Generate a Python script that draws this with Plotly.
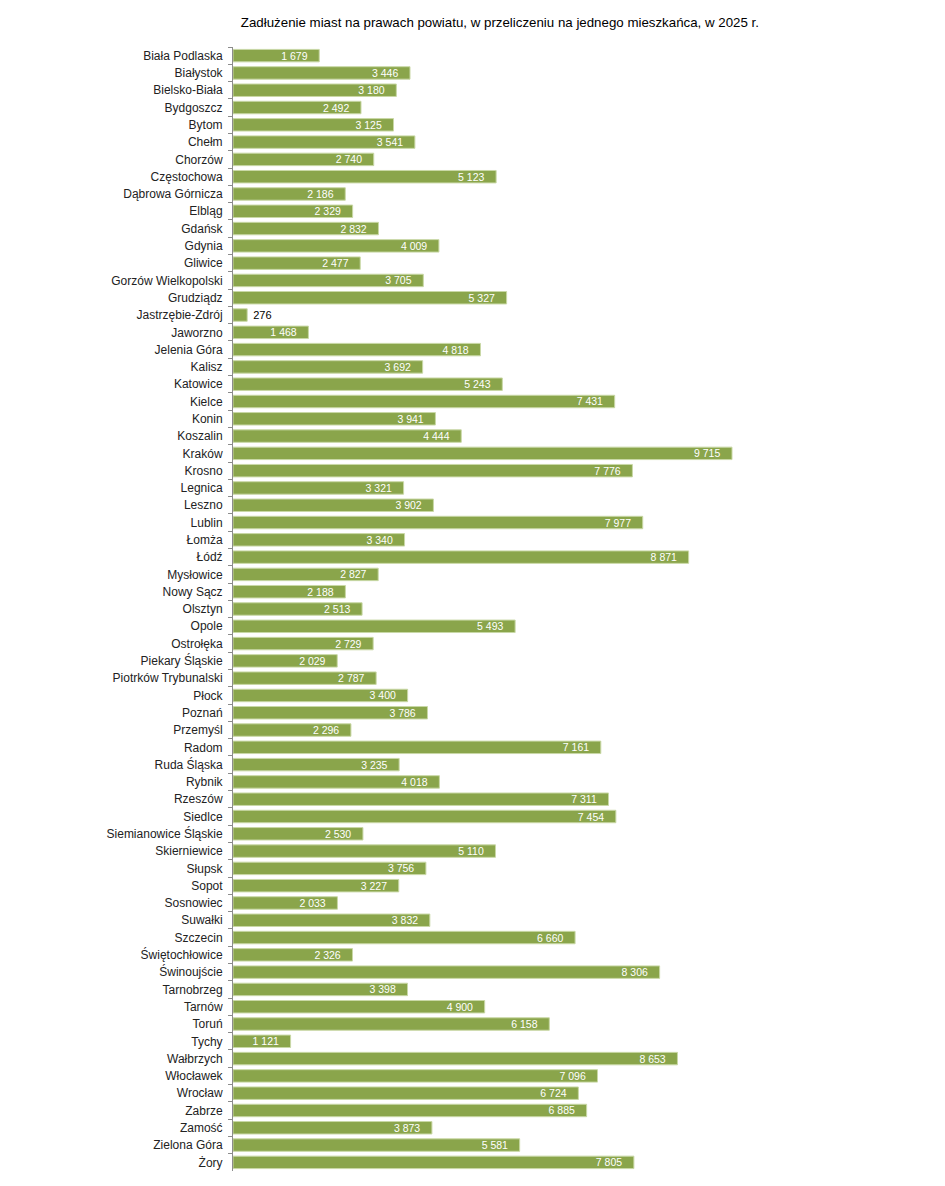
import plotly.graph_objects as go

cities = ["Biała Podlaska", "Białystok", "Bielsko-Biała", "Bydgoszcz", "Bytom", "Chełm", "Chorzów",
          "Częstochowa", "Dąbrowa Górnicza", "Elbląg", "Gdańsk", "Gdynia", "Gliwice",
          "Gorzów Wielkopolski", "Grudziądz", "Jastrzębie-Zdrój", "Jaworzno", "Jelenia Góra",
          "Kalisz", "Katowice", "Kielce", "Konin", "Koszalin", "Kraków", "Krosno", "Legnica",
          "Leszno", "Lublin", "Łomża", "Łódź", "Mysłowice", "Nowy Sącz", "Olsztyn", "Opole",
          "Ostrołęka", "Piekary Śląskie", "Piotrków Trybunalski", "Płock", "Poznań", "Przemyśl",
          "Radom", "Ruda Śląska", "Rybnik", "Rzeszów", "Siedlce", "Siemianowice Śląskie",
          "Skierniewice", "Słupsk", "Sopot", "Sosnowiec", "Suwałki", "Szczecin", "Świętochłowice",
          "Świnoujście", "Tarnobrzeg", "Tarnów", "Toruń", "Tychy", "Wałbrzych", "Włocławek",
          "Wrocław", "Zabrze", "Zamość", "Zielona Góra", "Żory"]

debt = [1679, 3446, 3180, 2492, 3125, 3541, 2740, 5123, 2186, 2329, 2832, 4009, 2477, 3705, 5327,
        276, 1468, 4818, 3692, 5243, 7431, 3941, 4444, 9715, 7776, 3321, 3902, 7977, 3340, 8871,
        2827, 2188, 2513, 5493, 2729, 2029, 2787, 3400, 3786, 2296, 7161, 3235, 4018, 7311, 7454,
        2530, 5110, 3756, 3227, 2033, 3832, 6660, 2326, 8306, 3398, 4900, 6158, 1121, 8653, 7096,
        6724, 6885, 3873, 5581, 7805]

title = "Zadłużenie miast na prawach powiatu, w przeliczeniu na jednego mieszkańca, w 2025 r."

positions = ["outside" if v < 800 else "inside" for v in debt]
labels = []
for v, p in zip(debt, positions):
    s = f"{v:,}".replace(",", " ")
    labels.append("\u00a0" + s if p == "outside" else s + "\u00a0\u00a0\u00a0")

fig = go.Figure(go.Bar(
    x=debt, y=cities, orientation="h",
    marker=dict(color="#8aa54b", line=dict(color="#c9d8a6", width=1)),
    text=labels, textposition=positions, insidetextanchor="end",
    insidetextfont=dict(color="#ffffff", size=10.5, family="Liberation Sans, Arial"),
    outsidetextfont=dict(color="#000000", size=11, family="Liberation Sans, Arial"),
    cliponaxis=False,
))

fig.update_layout(
    width=945, height=1186,
    margin=dict(l=233, r=147, t=47, b=15),
    paper_bgcolor="white", plot_bgcolor="white",
    bargap=0.28,
    showlegend=False,
    uniformtext=dict(minsize=10, mode="show"),
    title=dict(text=title, x=0.529, xanchor="center", y=0.985, yanchor="top",
               font=dict(size=13.3, color="#000000", family="Liberation Sans, Arial")),
    xaxis=dict(range=[0, 11000], visible=False, fixedrange=True),
    yaxis=dict(autorange="reversed", showline=True, linecolor="#8c8c8c", linewidth=1,
               ticks="outside", tickson="boundaries", ticklen=4, tickcolor="#8c8c8c",
               ticklabelstandoff=7,
               tickfont=dict(size=12, color="#222222", family="Liberation Sans, Arial"),
               showgrid=False, zeroline=False),
)

fig.write_html("out.html")
